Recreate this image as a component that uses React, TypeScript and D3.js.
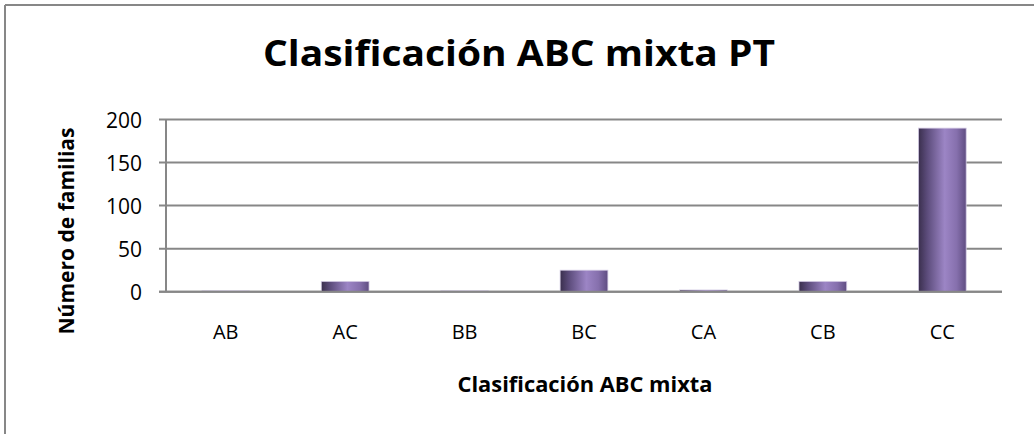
import React from "react";
import * as d3 from "d3";

const categories = ["AB", "AC", "BB", "BC", "CA", "CB", "CC"];
const values = [1, 12, 1, 25, 2, 12, 190];
const yTicks = [0, 50, 100, 150, 200];

const W = 1034;
const H = 434;
const left = 166;
const right = 1002;
const top = 119.5;
const bottom = 291.7;

export default function App() {
  const x = d3.scaleBand<string>().domain(categories).range([left, right]).paddingInner(0.6).paddingOuter(0.3);
  const y = d3.scaleLinear().domain([0, 200]).range([bottom, top]);
  const font = "'Open Sans', 'Noto Sans', sans-serif";
  const grid = "#878787";
  return (
    <svg width={W} height={H} style={{ position: "absolute", left: 0, top: 0, background: "#fff" }}>
      <defs>
        <linearGradient id="barg" x1="0" x2="1" y1="0" y2="0">
          <stop offset="0%" stopColor="#3a2f4d" />
          <stop offset="18%" stopColor="#5b4b7a" />
          <stop offset="55%" stopColor="#9c85c5" />
          <stop offset="80%" stopColor="#8670ad" />
          <stop offset="100%" stopColor="#5f4d82" />
        </linearGradient>
      </defs>
      <rect x={0} y={0} width={W} height={H} fill="#fff" />
      <line x1={5} x2={W} y1={5} y2={5} stroke={grid} strokeWidth={2} />
      <line x1={5} x2={5} y1={5} y2={H} stroke={grid} strokeWidth={2} />
      <text x={519} y={66} textAnchor="middle" fontFamily={font} fontWeight="bold" fontSize={36} textLength={512} lengthAdjust="spacingAndGlyphs" fill="#000">
        Clasificación ABC mixta PT
      </text>
      {yTicks.map((t) => (
        <g key={t}>
          <line x1={159} x2={right} y1={y(t)} y2={y(t)} stroke={grid} strokeWidth={2} />
          <text x={142} y={y(t) + 8} textAnchor="end" fontFamily={font} fontSize={21} fill="#000">
            {t}
          </text>
        </g>
      ))}
      <line x1={left} x2={left} y1={top} y2={bottom} stroke={grid} strokeWidth={2} />
      {categories.map((c, i) => (
        <g key={c}>
          <rect
            x={x(c)!}
            y={y(values[i])}
            width={x.bandwidth()}
            height={bottom - y(values[i])}
            fill="url(#barg)"
            stroke="#d6cde6"
            strokeWidth={0.8}
          />
          <text x={x(c)! + x.bandwidth() / 2} y={339} textAnchor="middle" fontFamily={font} fontSize={20} fill="#000">
            {c}
          </text>
        </g>
      ))}
      <line x1={159} x2={right} y1={bottom} y2={bottom} stroke={grid} strokeWidth={2} />
      <text x={585} y={392} textAnchor="middle" fontFamily={font} fontWeight="bold" fontSize={21} textLength={255} lengthAdjust="spacingAndGlyphs" fill="#000">
        Clasificación ABC mixta
      </text>
      <text
        transform={`translate(74, 231) rotate(-90)`}
        textAnchor="middle"
        fontFamily={font}
        fontWeight="bold"
        fontSize={22}
        textLength={207}
        lengthAdjust="spacingAndGlyphs"
        fill="#000"
      >
        Número de familias
      </text>
    </svg>
  );
}
